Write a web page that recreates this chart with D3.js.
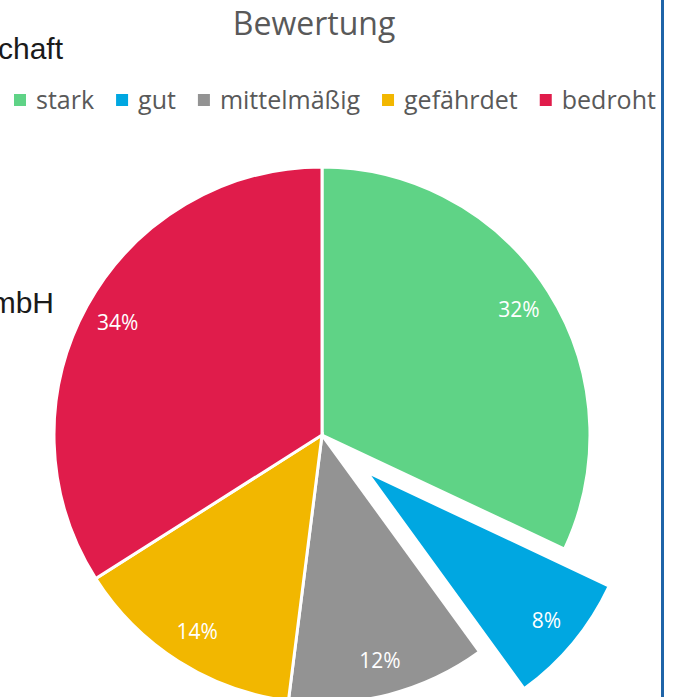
<!DOCTYPE html>
<html>
<head>
<meta charset="utf-8">
<script src="https://cdn.jsdelivr.net/npm/d3@7"></script>
<style>
  body { margin: 0; background: #fff; }
  svg { display: block; }
</style>
</head>
<body>
<div id="chart"></div>
<script>
const categories = ['stark', 'gut', 'mittelmäßig', 'gefährdet', 'bedroht'];
const shares = [32, 8, 12, 14, 34];
const colors = ['#5fd386', '#00a7e1', '#939393', '#f2b700', '#e01c4b'];
const exploded = ['gut'];
const titleText = 'Bewertung';
const sideTexts = ['chaft', 'mbH'];

const width = 675;
const height = 697;
const cx = 322;
const cy = 435;
const radius = 268;
const explodeBy = 58;

const svg = d3.select('#chart')
    .append('svg')
    .attr('width', width)
    .attr('height', height);

// leftover text of the neighbouring element, cut off at the left edge
svg.append('text')
    .attr('x', 63).attr('y', 59)
    .attr('text-anchor', 'end')
    .attr('font-family', 'Liberation Sans, Arial, sans-serif')
    .attr('font-size', 30)
    .attr('fill', '#1a1a1a')
    .text(sideTexts[0]);
svg.append('text')
    .attr('x', 54).attr('y', 313)
    .attr('text-anchor', 'end')
    .attr('font-family', 'Liberation Sans, Arial, sans-serif')
    .attr('font-size', 30)
    .attr('fill', '#1a1a1a')
    .text(sideTexts[1]);

svg.append('text')
    .attr('x', 314).attr('y', 35)
    .attr('text-anchor', 'middle')
    .attr('font-family', 'Open Sans, sans-serif')
    .attr('font-size', 32)
    .attr('fill', '#595959')
    .text(titleText);

// legend
const legend = svg.append('g').attr('transform', 'translate(14, 0)');
let lx = 0;
categories.forEach((c, i) => {
    legend.append('rect')
        .attr('x', lx).attr('y', 94)
        .attr('width', 12).attr('height', 12)
        .attr('fill', colors[i]);
    const t = legend.append('text')
        .attr('x', lx + 22).attr('y', 109)
        .attr('font-family', 'Open Sans, sans-serif')
        .attr('font-size', 25)
        .attr('fill', '#595959')
        .text(c);
    lx += 22 + t.node().getComputedTextLength() + 22;
});

const color = d3.scaleOrdinal().domain(categories).range(colors);
const pie = d3.pie().sort(null).value(d => d.value);
const arcs = pie(categories.map((c, i) => ({ name: c, value: shares[i] })));

const arc = d3.arc().innerRadius(0).outerRadius(radius);
const labelArc = d3.arc().innerRadius(radius * 0.87).outerRadius(radius * 0.87);

const g = svg.append('g').attr('transform', `translate(${cx}, ${cy})`);

const slices = g.selectAll('g.slice')
    .data(arcs)
    .join('g')
    .attr('class', 'slice')
    .attr('transform', d => {
        if (!exploded.includes(d.data.name)) return null;
        const mid = (d.startAngle + d.endAngle) / 2;
        return `translate(${Math.sin(mid) * explodeBy}, ${-Math.cos(mid) * explodeBy})`;
    });

slices.append('path')
    .attr('d', arc)
    .attr('fill', d => color(d.data.name))
    .attr('stroke', '#fff')
    .attr('stroke-width', 3);

slices.append('text')
    .attr('transform', d => `translate(${labelArc.centroid(d)})`)
    .attr('text-anchor', 'middle')
    .attr('dy', '0.35em')
    .attr('font-family', 'Open Sans, sans-serif')
    .attr('font-size', 21)
    .attr('fill', '#fff')
    .text(d => d.data.value + '%');

// blue frame line on the right
svg.append('rect')
    .attr('x', 661).attr('y', 0)
    .attr('width', 3).attr('height', height)
    .attr('fill', '#1f64a8');
</script>
</body>
</html>
